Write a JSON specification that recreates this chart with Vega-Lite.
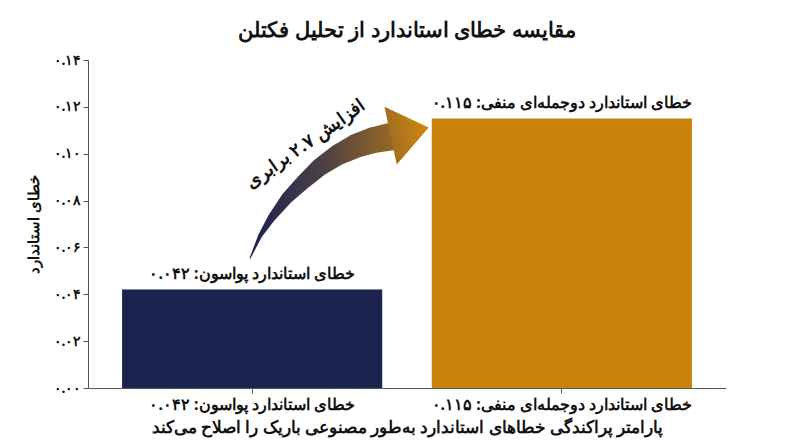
{
  "$schema": "https://vega.github.io/schema/vega-lite/v6.json",
  "description": "Poisson vs negative binomial standard error",
  "autosize": "none",
  "width": 638,
  "height": 328,
  "padding": {"left": 88, "top": 60, "right": 74, "bottom": 59},
  "background": "white",
  "config": {
    "font": "Noto Sans",
    "view": {"stroke": null}
  },
  "title": {
    "text": "مقایسه خطای استاندارد از تحلیل فکتلن",
    "fontSize": 21,
    "fontWeight": "bold",
    "color": "#111111",
    "anchor": "middle",
    "offset": 12
  },
  "datasets": {
    "bars": [
      {"model": "خطای استاندارد پواسون: ۰.۰۴۲", "se": 0.042, "kind": "poisson"},
      {"model": "خطای استاندارد دوجمله\u200cای منفی: ۰.۱۱۵", "se": 0.115, "kind": "nb"}
    ],
    "arrow": [
      {"x": -0.006, "y": 0.0555, "w": 0},
      {"x": 0.026, "y": 0.0649, "w": 4},
      {"x": 0.065, "y": 0.0730, "w": 8},
      {"x": 0.113, "y": 0.0811, "w": 12},
      {"x": 0.165, "y": 0.0879, "w": 15},
      {"x": 0.219, "y": 0.0943, "w": 18},
      {"x": 0.277, "y": 0.0995, "w": 21},
      {"x": 0.335, "y": 0.1033, "w": 24},
      {"x": 0.394, "y": 0.1059, "w": 26},
      {"x": 0.458, "y": 0.1076, "w": 28}
    ],
    "head": [{"x": 0.503, "y": 0.1093}],
    "note": [{"x": 0.174, "y": 0.1040, "t": "افزایش ۲.۷ برابری"}]
  },
  "layer": [
    {
      "data": {"name": "bars"},
      "layer": [
        {
          "mark": {"type": "bar"},
          "encoding": {
            "x": {
              "field": "model",
              "type": "nominal",
              "sort": null,
              "scale": {"paddingInner": 0.16, "paddingOuter": 0.11},
              "axis": {
                "title": "پارامتر پراکندگی خطاهای استاندارد به\u200cطور مصنوعی باریک را اصلاح می\u200cکند",
                "titleFontSize": 16.5,
                "titleFontWeight": "bold",
                "titleColor": "#111111",
                "titlePadding": 7,
                "labelAngle": 0,
                "labelLimit": 0,
                "labelFontSize": 16,
                "labelFontWeight": "bold",
                "labelColor": "#111111",
                "labelPadding": 3,
                "domainColor": "#555555",
                "tickColor": "#555555",
                "tickSize": 5
              }
            },
            "y": {
              "field": "se",
              "type": "quantitative",
              "scale": {"domain": [0, 0.14], "nice": false},
              "axis": {
                "title": "خطای استاندارد",
                "titleFontSize": 15,
                "titleFontWeight": "bold",
                "titleColor": "#111111",
                "titlePadding": 12,
                "values": [0, 0.02, 0.04, 0.06, 0.08, 0.1, 0.12, 0.14],
                "format": ".2f",
                "labelExpr": "replace(replace(replace(replace(replace(replace(datum.label, regexp('0','g'), '۰'), regexp('1','g'), '۱'), regexp('2','g'), '۲'), regexp('4','g'), '۴'), regexp('6','g'), '۶'), regexp('8','g'), '۸')",
                "labelFontSize": 14,
                "labelFontWeight": "bold",
                "labelColor": "#111111",
                "grid": false,
                "domainColor": "#555555",
                "tickColor": "#555555",
                "tickSize": 5
              }
            },
            "color": {
              "field": "kind",
              "type": "nominal",
              "scale": {"domain": ["poisson", "nb"], "range": ["#1b2350", "#c8820a"]},
              "legend": null
            }
          }
        },
        {
          "mark": {"type": "text", "baseline": "bottom", "dy": -8, "fontSize": 16, "fontWeight": "bold", "color": "#111111"},
          "encoding": {
            "x": {"field": "model", "type": "nominal", "sort": null},
            "y": {"field": "se", "type": "quantitative"},
            "text": {"field": "model"}
          }
        }
      ]
    },
    {
      "layer": [
        {
          "data": {"name": "arrow"},
          "mark": {
            "type": "trail",
            "fill": {
              "gradient": "linear",
              "x1": 0, "y1": 0, "x2": 1, "y2": 0,
              "stops": [
                {"offset": 0, "color": "#1b2350"},
                {"offset": 0.45, "color": "#4a3f46"},
                {"offset": 1, "color": "#a66f1f"}
              ]
            }
          },
          "encoding": {
            "x": {"field": "x", "type": "quantitative", "scale": {"domain": [-0.529, 1.529], "nice": false, "zero": false}, "axis": null},
            "y": {"field": "y", "type": "quantitative"},
            "size": {"field": "w", "type": "quantitative", "scale": null, "legend": null}
          }
        },
        {
          "data": {"name": "head"},
          "mark": {
            "type": "point",
            "filled": true,
            "shape": "M -0.6 -1 L 0.72 0 L -0.6 1 Z",
            "size": 3481,
            "angle": -12,
            "opacity": 1,
            "fill": {
              "gradient": "linear",
              "x1": 0, "y1": 0, "x2": 1, "y2": 0,
              "stops": [
                {"offset": 0, "color": "#a66f1f"},
                {"offset": 1, "color": "#cf8a12"}
              ]
            }
          },
          "encoding": {
            "x": {"field": "x", "type": "quantitative"},
            "y": {"field": "y", "type": "quantitative"}
          }
        },
        {
          "data": {"name": "note"},
          "mark": {"type": "text", "angle": -35, "fontSize": 18, "fontWeight": "bold", "color": "#111111", "align": "center", "baseline": "middle"},
          "encoding": {
            "x": {"field": "x", "type": "quantitative"},
            "y": {"field": "y", "type": "quantitative"},
            "text": {"field": "t"}
          }
        }
      ]
    }
  ],
  "resolve": {"scale": {"x": "independent"}}
}
